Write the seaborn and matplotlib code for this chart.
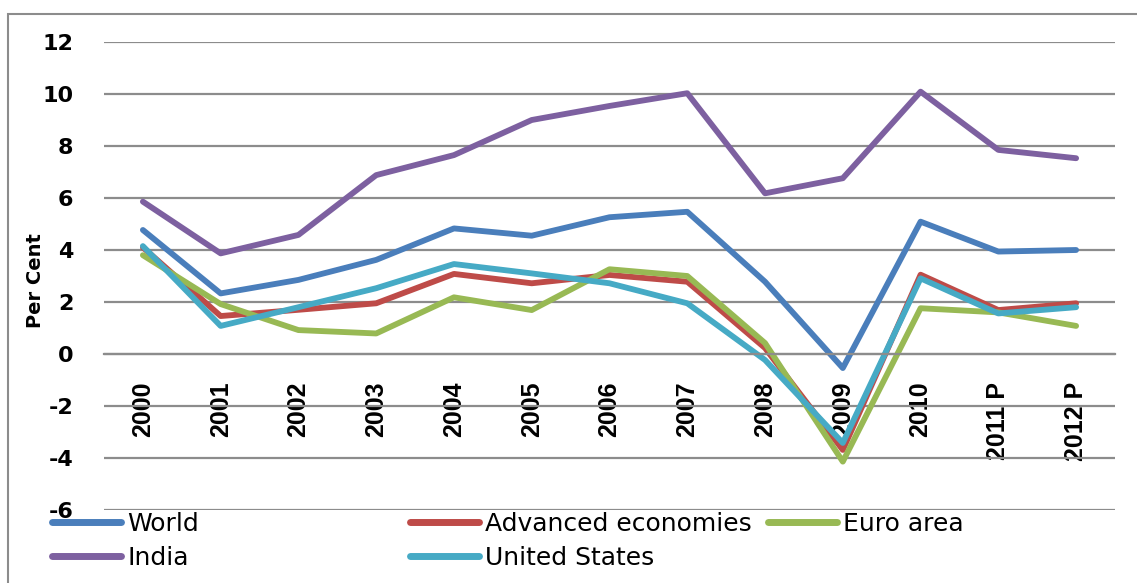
import pandas as pd
import matplotlib
matplotlib.use('Agg')
import matplotlib.pyplot as plt
import matplotlib.patches as mpatches
from matplotlib.lines import Line2D
import seaborn as sns

years = ['2000', '2001', '2002', '2003', '2004', '2005', '2006',
         '2007', '2008', '2009', '2010', '2011 P', '2012 P']

world = [4.77, 2.33, 2.85, 3.62, 4.83, 4.55, 5.26, 5.47, 2.78, -0.54, 5.09, 3.94, 4.0]
advanced = [4.1, 1.46, 1.7, 1.95, 3.08, 2.72, 3.04, 2.78, 0.23, -3.69, 3.05, 1.69, 1.95]
euro_area = [3.8, 1.92, 0.92, 0.79, 2.18, 1.69, 3.26, 3.0, 0.42, -4.14, 1.76, 1.6, 1.08]
india = [5.86, 3.87, 4.58, 6.88, 7.65, 9.0, 9.54, 10.03, 6.18, 6.76, 10.09, 7.85, 7.53]
usa = [4.15, 1.08, 1.8, 2.53, 3.46, 3.1, 2.72, 1.95, -0.23, -3.42, 2.91, 1.56, 1.8]

series = {
    'World': world,
    'Advanced economies': advanced,
    'Euro area': euro_area,
    'India': india,
    'United States': usa,
}
colors = {
    'World': '#4A7EBB',
    'Advanced economies': '#BE4B48',
    'Euro area': '#98B954',
    'India': '#7D60A0',
    'United States': '#46AAC5',
}

# long form table for seaborn
df = pd.concat(
    [pd.DataFrame({'Year': years, 'Growth': vals, 'Series': name})
     for name, vals in series.items()],
    ignore_index=True,
)

sns.set_style('white')
plt.rcParams['font.family'] = ['DejaVu Sans']
plt.rcParams['axes.unicode_minus'] = False
plt.rcParams['text.color'] = 'black'
plt.rcParams['xtick.color'] = 'black'
plt.rcParams['ytick.color'] = 'black'
plt.rcParams['axes.labelcolor'] = 'black'

fig = plt.figure(figsize=(11.37, 5.83), dpi=100)
ax = fig.add_axes([104 / 1137, 1 - 510 / 583, 1011 / 1137, 468 / 583])

sns.lineplot(data=df, x='Year', y='Growth', hue='Series', palette=colors,
             hue_order=list(series.keys()), sort=False, linewidth=4.2,
             legend=False, ax=ax)

ax.set_xlim(-0.5, len(years) - 0.5)
ax.set_ylim(-6, 12)
ax.set_yticks(range(-6, 13, 2))
ax.yaxis.grid(True, color='#8C8C8C', linewidth=1.6)
ax.set_axisbelow(True)

for side in ['top', 'right', 'left']:
    ax.spines[side].set_visible(False)
ax.spines['bottom'].set_position(('data', 0))
ax.spines['bottom'].set_color('#8C8C8C')
ax.spines['bottom'].set_linewidth(1.6)

ax.tick_params(axis='y', length=0, pad=22, labelsize=16)
ax.tick_params(axis='x', length=0, pad=20)
for lab in ax.get_yticklabels():
    lab.set_fontweight('bold')
ax.set_xticks(range(len(years)))
ax.set_xticklabels(years, rotation=90, fontweight='bold', fontsize=18,
                   family=['Liberation Sans', 'DejaVu Sans'])

ax.set_xlabel('')
ax.set_ylabel('Per Cent', fontsize=14, fontweight='bold')
ax.yaxis.set_label_coords(-0.058, 0.49)

# legend laid out like the Excel original: three fixed columns
def make_handle(name):
    return Line2D([], [], color=colors[name], linewidth=5, solid_capstyle='round')

legend_cols = [
    (52, ['World', 'India']),
    (410, ['Advanced economies', 'United States']),
    (768, ['Euro area']),
]
for x_px, names in legend_cols:
    fig.legend([make_handle(n) for n in names], names,
               loc='upper left', bbox_to_anchor=(x_px / 1137, 1 - 512 / 583),
               frameon=False, fontsize=18, handlelength=2.75,
               handletextpad=0.25, borderpad=0, borderaxespad=0,
               labelspacing=0.4)

# outer chart border
fig.patches.append(mpatches.Rectangle((8 / 1137, -0.1), 1.1, 1.1 - 14 / 583,
                                      transform=fig.transFigure, fill=False,
                                      edgecolor='#8C8C8C', linewidth=1.5))

fig.savefig('out.png', dpi=100)
